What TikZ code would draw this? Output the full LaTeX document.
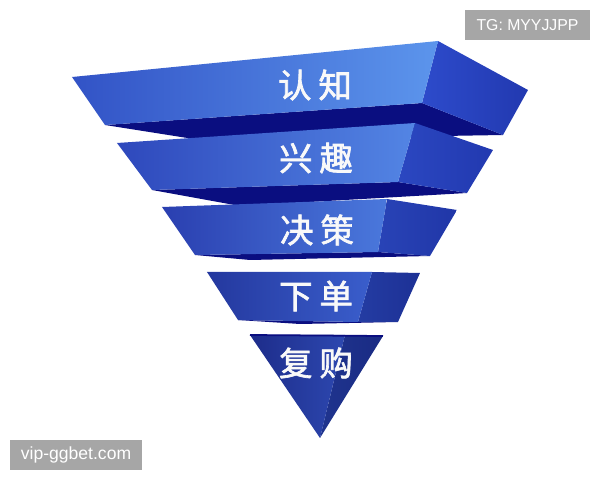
\documentclass[tikz,border=0pt]{standalone}
\usepackage{fontspec}
\setmainfont{Liberation Sans}
\newfontfamily\cjk[FakeBold=2]{Noto Sans CJK SC}
\definecolor{under}{HTML}{0A0E80}
\definecolor{fa}{HTML}{3253C6}\definecolor{fb}{HTML}{5C95EC}
\definecolor{ga}{HTML}{2E48BC}\definecolor{gb}{HTML}{5385E4}
\definecolor{ha}{HTML}{2A3FB0}\definecolor{hb}{HTML}{4A78DC}
\definecolor{ia}{HTML}{24389E}\definecolor{ib}{HTML}{3A5ECC}
\definecolor{ja}{HTML}{1D2C8A}\definecolor{jb}{HTML}{2D48B0}
\definecolor{sidea}{HTML}{2D4BCB}\definecolor{sideb}{HTML}{2239B0}
\definecolor{tagcol}{HTML}{A6A6A6}
\begin{document}
\begin{tikzpicture}[x=0.02cm, y=-0.02cm,
	stage/.style={text=white!95!gray, font=\cjk\fontsize{19}{19}\selectfont},
	tagbox/.style={fill=tagcol, text=white, inner sep=0pt, font=\fontsize{9}{9}\selectfont}]
	\useasboundingbox (0,0) rectangle (600,480);
	
	%layer 1
	\fill[under] (105,125) -- (422,103) -- (503,135) -- (200,140) -- cycle;
	\shade[left color=sidea, right color=sideb] (438,41) -- (528,90) -- (503,135) -- (422,103) -- cycle;
	\shade[left color=fa, right color=fb] (72,77) -- (438,41) -- (422,103) -- (105,125) -- cycle;
	
	%layer 2
	\fill[under] (152,190) -- (398,182) -- (467,193) -- (240,206) -- cycle;
	\shade[left color=sidea!95!black, right color=sideb] (415,123) -- (493,150) -- (467,193) -- (398,182) -- cycle;
	\shade[left color=ga, right color=gb] (117,143) -- (415,123) -- (398,182) -- (152,190) -- cycle;
	
	%layer 3
	\fill[under] (195,255) -- (378,252) -- (430,256) -- (250,260) -- cycle;
	\shade[left color=sidea!90!black, right color=sideb!95!black] (387,199) -- (457,210) -- (430,256) -- (378,252) -- cycle;
	\shade[left color=ha, right color=hb] (162,207) -- (387,199) -- (378,252) -- (195,255) -- cycle;
	
	%layer 4
	\fill[under] (238,320) -- (358,322) -- (398,322) -- (300,324) -- cycle;
	\shade[left color=sidea!80!black, right color=sideb!85!black] (372,272) -- (420,273) -- (398,322) -- (358,322) -- cycle;
	\shade[left color=ia, right color=ib] (207,272) -- (372,272) -- (358,322) -- (238,320) -- cycle;
	
	%layer 5
	\shade[left color=sidea!70!black, right color=sideb!75!black] (345,335) -- (383,336) -- (320,438) -- cycle;
	\shade[left color=ja, right color=jb] (250,335) -- (345,335) -- (320,438) -- cycle;
	\draw[under, line width=1pt] (250,335) -- (383,336);
	
	%labels
	\node[stage] (aware) at (315,85){认\hspace{4pt}知};
	\node[stage] (interest) at (316,158){兴\hspace{4pt}趣};
	\node[stage] (decide) at (317,230){决\hspace{4pt}策};
	\node[stage] (order) at (316,296){下\hspace{4pt}单};
	\node[stage] (rebuy) at (316,363){复\hspace{4pt}购};
	
	%marks
	\node[tagbox, minimum width=2.5cm, minimum height=0.6cm] (tg) at (527.5,25){TG: MYYJJPP};
	\node[tagbox, minimum width=2.64cm, minimum height=0.6cm, font=\fontsize{10}{10}\selectfont] (site) at (76,455){vip-ggbet.com};
\end{tikzpicture}
\end{document}
